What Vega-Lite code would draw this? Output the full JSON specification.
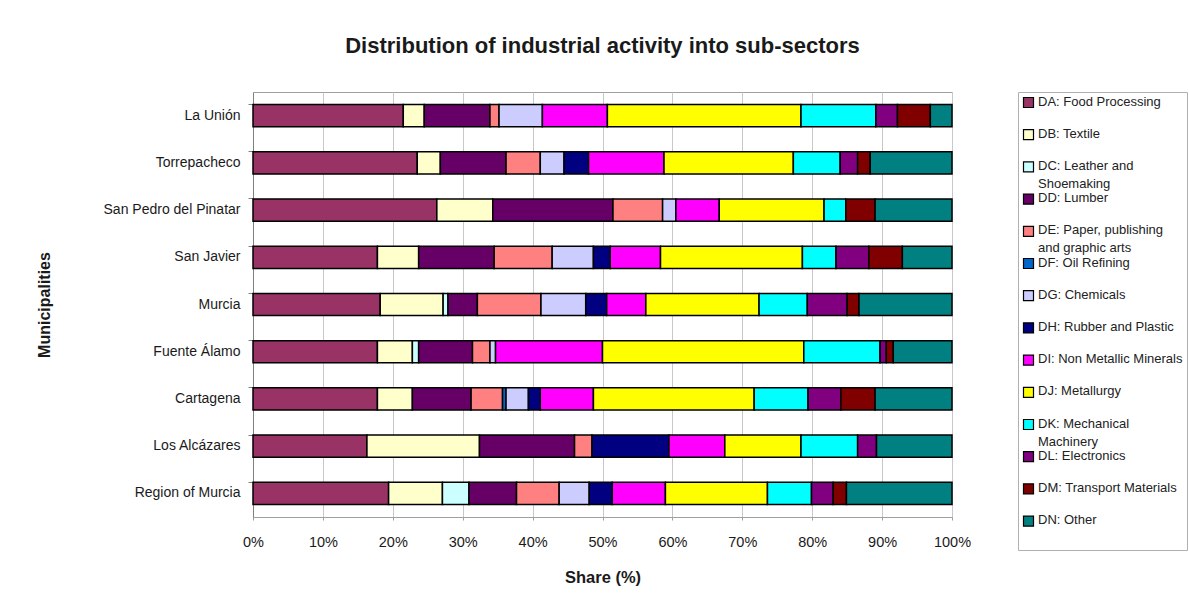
{
  "$schema": "https://vega.github.io/schema/vega-lite/v6.json",
  "width": 699,
  "height": 425,
  "autosize": "none",
  "padding": {"left": 253, "top": 92, "right": 237, "bottom": 87},
  "background": "white",
  "title": {"text": "Distribution of industrial activity into sub-sectors", "font": "Liberation Sans", "fontSize": 22, "fontWeight": "bold", "color": "#1a1a1a", "anchor": "middle", "offset": 34},
  "datasets": {
    "raw": [
      {"m": "La Unión", "s": "DA", "v": 21.5}, {"m": "La Unión", "s": "DB", "v": 3.0}, {"m": "La Unión", "s": "DD", "v": 9.4}, {"m": "La Unión", "s": "DE", "v": 1.3}, {"m": "La Unión", "s": "DG", "v": 6.2}, {"m": "La Unión", "s": "DI", "v": 9.3}, {"m": "La Unión", "s": "DJ", "v": 27.7}, {"m": "La Unión", "s": "DK", "v": 10.7}, {"m": "La Unión", "s": "DL", "v": 3.1}, {"m": "La Unión", "s": "DM", "v": 4.7}, {"m": "La Unión", "s": "DN", "v": 3.1},
      {"m": "Torrepacheco", "s": "DA", "v": 23.5}, {"m": "Torrepacheco", "s": "DB", "v": 3.3}, {"m": "Torrepacheco", "s": "DD", "v": 9.4}, {"m": "Torrepacheco", "s": "DE", "v": 4.9}, {"m": "Torrepacheco", "s": "DG", "v": 3.4}, {"m": "Torrepacheco", "s": "DH", "v": 3.5}, {"m": "Torrepacheco", "s": "DI", "v": 10.8}, {"m": "Torrepacheco", "s": "DJ", "v": 18.5}, {"m": "Torrepacheco", "s": "DK", "v": 6.7}, {"m": "Torrepacheco", "s": "DL", "v": 2.5}, {"m": "Torrepacheco", "s": "DM", "v": 1.8}, {"m": "Torrepacheco", "s": "DN", "v": 11.7},
      {"m": "San Pedro del Pinatar", "s": "DA", "v": 26.3}, {"m": "San Pedro del Pinatar", "s": "DB", "v": 8.0}, {"m": "San Pedro del Pinatar", "s": "DD", "v": 17.2}, {"m": "San Pedro del Pinatar", "s": "DE", "v": 7.1}, {"m": "San Pedro del Pinatar", "s": "DG", "v": 1.9}, {"m": "San Pedro del Pinatar", "s": "DI", "v": 6.2}, {"m": "San Pedro del Pinatar", "s": "DJ", "v": 15.0}, {"m": "San Pedro del Pinatar", "s": "DK", "v": 3.1}, {"m": "San Pedro del Pinatar", "s": "DM", "v": 4.2}, {"m": "San Pedro del Pinatar", "s": "DN", "v": 11.0},
      {"m": "San Javier", "s": "DA", "v": 17.8}, {"m": "San Javier", "s": "DB", "v": 5.9}, {"m": "San Javier", "s": "DD", "v": 10.8}, {"m": "San Javier", "s": "DE", "v": 8.3}, {"m": "San Javier", "s": "DG", "v": 5.9}, {"m": "San Javier", "s": "DH", "v": 2.4}, {"m": "San Javier", "s": "DI", "v": 7.2}, {"m": "San Javier", "s": "DJ", "v": 20.3}, {"m": "San Javier", "s": "DK", "v": 4.8}, {"m": "San Javier", "s": "DL", "v": 4.7}, {"m": "San Javier", "s": "DM", "v": 4.8}, {"m": "San Javier", "s": "DN", "v": 7.1},
      {"m": "Murcia", "s": "DA", "v": 18.2}, {"m": "Murcia", "s": "DB", "v": 9.0}, {"m": "Murcia", "s": "DC", "v": 0.7}, {"m": "Murcia", "s": "DD", "v": 4.2}, {"m": "Murcia", "s": "DE", "v": 9.1}, {"m": "Murcia", "s": "DG", "v": 6.4}, {"m": "Murcia", "s": "DH", "v": 3.0}, {"m": "Murcia", "s": "DI", "v": 5.6}, {"m": "Murcia", "s": "DJ", "v": 16.2}, {"m": "Murcia", "s": "DK", "v": 6.9}, {"m": "Murcia", "s": "DL", "v": 5.7}, {"m": "Murcia", "s": "DM", "v": 1.7}, {"m": "Murcia", "s": "DN", "v": 13.3},
      {"m": "Fuente Álamo", "s": "DA", "v": 17.8}, {"m": "Fuente Álamo", "s": "DB", "v": 5.0}, {"m": "Fuente Álamo", "s": "DC", "v": 0.9}, {"m": "Fuente Álamo", "s": "DD", "v": 7.7}, {"m": "Fuente Álamo", "s": "DE", "v": 2.5}, {"m": "Fuente Álamo", "s": "DG", "v": 0.8}, {"m": "Fuente Álamo", "s": "DI", "v": 15.3}, {"m": "Fuente Álamo", "s": "DJ", "v": 28.8}, {"m": "Fuente Álamo", "s": "DK", "v": 10.9}, {"m": "Fuente Álamo", "s": "DL", "v": 0.9}, {"m": "Fuente Álamo", "s": "DM", "v": 1.0}, {"m": "Fuente Álamo", "s": "DN", "v": 8.4},
      {"m": "Cartagena", "s": "DA", "v": 17.8}, {"m": "Cartagena", "s": "DB", "v": 5.0}, {"m": "Cartagena", "s": "DD", "v": 8.4}, {"m": "Cartagena", "s": "DE", "v": 4.5}, {"m": "Cartagena", "s": "DF", "v": 0.5}, {"m": "Cartagena", "s": "DG", "v": 3.2}, {"m": "Cartagena", "s": "DH", "v": 1.7}, {"m": "Cartagena", "s": "DI", "v": 7.6}, {"m": "Cartagena", "s": "DJ", "v": 23.0}, {"m": "Cartagena", "s": "DK", "v": 7.7}, {"m": "Cartagena", "s": "DL", "v": 4.7}, {"m": "Cartagena", "s": "DM", "v": 4.9}, {"m": "Cartagena", "s": "DN", "v": 11.0},
      {"m": "Los Alcázares", "s": "DA", "v": 16.3}, {"m": "Los Alcázares", "s": "DB", "v": 16.1}, {"m": "Los Alcázares", "s": "DD", "v": 13.6}, {"m": "Los Alcázares", "s": "DE", "v": 2.5}, {"m": "Los Alcázares", "s": "DH", "v": 11.0}, {"m": "Los Alcázares", "s": "DI", "v": 8.0}, {"m": "Los Alcázares", "s": "DJ", "v": 10.9}, {"m": "Los Alcázares", "s": "DK", "v": 8.1}, {"m": "Los Alcázares", "s": "DL", "v": 2.7}, {"m": "Los Alcázares", "s": "DN", "v": 10.8},
      {"m": "Region of Murcia", "s": "DA", "v": 19.4}, {"m": "Region of Murcia", "s": "DB", "v": 7.7}, {"m": "Region of Murcia", "s": "DC", "v": 3.8}, {"m": "Region of Murcia", "s": "DD", "v": 6.8}, {"m": "Region of Murcia", "s": "DE", "v": 6.1}, {"m": "Region of Murcia", "s": "DG", "v": 4.3}, {"m": "Region of Murcia", "s": "DH", "v": 3.3}, {"m": "Region of Murcia", "s": "DI", "v": 7.6}, {"m": "Region of Murcia", "s": "DJ", "v": 14.6}, {"m": "Region of Murcia", "s": "DK", "v": 6.3}, {"m": "Region of Murcia", "s": "DL", "v": 3.1}, {"m": "Region of Murcia", "s": "DM", "v": 1.9}, {"m": "Region of Murcia", "s": "DN", "v": 15.1}
    ]
  },
  "data": {"name": "raw"},
  "mark": {"type": "bar", "stroke": "#000000", "strokeWidth": 1.5},
  "encoding": {
    "y": {
      "field": "m", "type": "nominal",
      "sort": ["La Unión", "Torrepacheco", "San Pedro del Pinatar", "San Javier", "Murcia", "Fuente Álamo", "Cartagena", "Los Alcázares", "Region of Murcia"],
      "scale": {"paddingInner": 0.53, "paddingOuter": 0.265},
      "axis": {"title": "Municipalities", "titleFont": "Liberation Sans", "titleFontSize": 16, "titleFontWeight": "bold", "titleColor": "#1a1a1a", "titlePadding": 51, "labelFont": "Liberation Sans", "labelFontSize": 14, "labelColor": "#1a1a1a", "labelPadding": 8, "domainColor": "#808080", "tickColor": "#808080", "tickSize": 5, "ticks": true, "bandPosition": 0, "grid": false}
    },
    "x": {
      "field": "v", "type": "quantitative", "stack": "normalize",
      "scale": {"domain": [0, 1], "nice": false},
      "axis": {"title": "Share (%)", "format": ".0%", "values": [0, 0.1, 0.2, 0.3, 0.4, 0.5, 0.6, 0.7, 0.8, 0.9, 1], "titleFont": "Liberation Sans", "titleFontSize": 16.5, "titleFontWeight": "bold", "titleColor": "#1a1a1a", "titlePadding": 21, "labelFont": "Liberation Sans", "labelFontSize": 14.5, "labelColor": "#1a1a1a", "labelPadding": 15, "domain": true, "domainColor": "#a0a0a0", "ticks": true, "tickSize": 3, "tickColor": "#a0a0a0", "grid": true, "gridColor": "#c8c8c8", "gridWidth": 1, "labelFlush": false}
    },
    "order": {"field": "s", "sort": "ascending"},
    "color": {
      "field": "s", "type": "nominal",
      "scale": {
        "domain": ["DA", "DB", "DC", "DD", "DE", "DF", "DG", "DH", "DI", "DJ", "DK", "DL", "DM", "DN"],
        "range": ["#993366", "#FFFFCC", "#CCFFFF", "#660066", "#FF8080", "#0066CC", "#CCCCFF", "#000080", "#FF00FF", "#FFFF00", "#00FFFF", "#800080", "#800000", "#008080"]
      },
      "legend": {
        "title": null,
        "orient": "none", "legendX": 765, "legendY": 0,
        "direction": "vertical",
        "strokeColor": "#b0b0b0", "padding": 4,
        "symbolType": "square", "symbolSize": 100, "symbolStrokeColor": "#000", "symbolStrokeWidth": 1.2,
        "labelFont": "Liberation Sans", "labelFontSize": 13, "labelColor": "#222222", "labelLimit": 220, "labelOffset": 3,
        "labelBaseline": "top",
        "rowPadding": 0.2,
        "encode": {"labels": {"update": {"lineHeight": {"value": 18}, "dy": {"value": -7}}}},
        "labelExpr": "{'DA':['DA: Food Processing',''],'DB':['DB: Textile',''],'DC':['DC: Leather and','Shoemaking'],'DD':['DD: Lumber',''],'DE':['DE: Paper, publishing','and graphic arts'],'DF':['DF: Oil Refining',''],'DG':['DG: Chemicals',''],'DH':['DH: Rubber and Plastic',''],'DI':['DI: Non Metallic Minerals',''],'DJ':['DJ: Metallurgy',''],'DK':['DK: Mechanical','Machinery'],'DL':['DL: Electronics',''],'DM':['DM: Transport Materials',''],'DN':['DN: Other','']}[datum.label]"
      }
    }
  },
  "config": {"view": {"stroke": "#a0a0a0", "strokeWidth": 1}}
}
